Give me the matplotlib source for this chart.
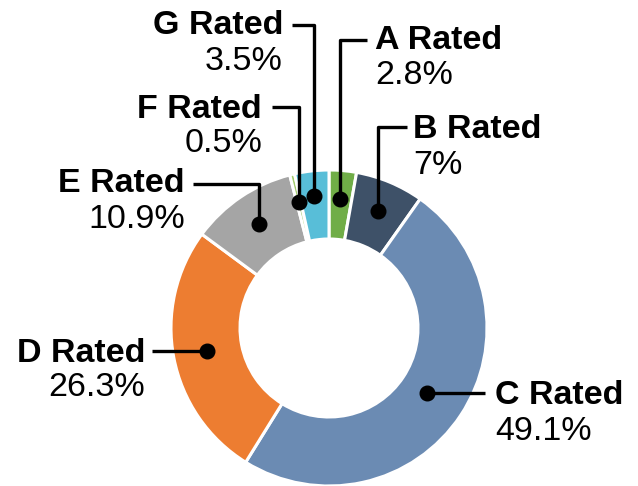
import numpy as np
import matplotlib
matplotlib.use("Agg")
import matplotlib.pyplot as plt

plt.rcParams["font.family"] = ["Liberation Sans", "DejaVu Sans"]

names  = ["A Rated", "B Rated", "C Rated", "D Rated", "E Rated", "F Rated", "G Rated"]
shares = [2.8, 7, 49.1, 26.3, 10.9, 0.5, 3.5]
values = ["2.8%", "7%", "49.1%", "26.3%", "10.9%", "0.5%", "3.5%"]
colors = ["#70ad47", "#3e5168", "#6b8bb3", "#ed7d31", "#a5a5a5", "#a3cc6e", "#58bed8"]

# layout in pixel units (y measured from top of the image)
W, H = 638, 486
cx, cy, R, width = 329, 328, 158, 69
dot_r   = [130, 127, 118, 124, 125, 130, 133]
line_y  = [40, 127, None, None, 184, 107, 25]     # None = straight horizontal leader
line_x  = [367, 407, 485, 152, 193, 272, 292]     # where leader meets the label
side    = ["left", "left", "left", "right", "right", "right", "right"]
name_y  = [41, 130, 395, 354, 184, 109, 26]
value_y = [76, 165, 431, 388, 219, 144, 62]
text_x  = [375, 413, 495, 145, 185, 262, 283]

fig = plt.figure(figsize=(W / 100, H / 100), dpi=100)
ax = fig.add_axes([0, 0, 1, 1])

wedges, _ = ax.pie(shares, colors=colors, startangle=90, counterclock=False,
                   center=(cx, H - cy), radius=R, frame=True,
                   wedgeprops=dict(width=width, edgecolor="white", linewidth=2.2))
ax.set_xlim(0, W)
ax.set_ylim(0, H)
ax.set_aspect("equal")
ax.axis("off")

for i, w in enumerate(wedges):
    mid = np.deg2rad((w.theta1 + w.theta2) / 2)
    dx = cx + dot_r[i] * np.cos(mid)
    dy = (H - cy) + dot_r[i] * np.sin(mid)
    if line_y[i] is None:
        xs, ys = [dx, line_x[i]], [dy, dy]
    else:
        ly = H - line_y[i]
        xs, ys = [dx, dx, line_x[i]], [dy, ly, ly]
    ax.plot(xs, ys, color="black", lw=2.4, solid_capstyle="butt", zorder=3)
    ax.plot(dx, dy, "o", color="black", ms=10.5, zorder=4)
    ax.text(text_x[i], H - name_y[i], names[i], ha=side[i], va="center",
            fontsize=24.5, fontweight="bold")
    ax.text(text_x[i], H - value_y[i], values[i], ha=side[i], va="center",
            fontsize=24.5)

fig.savefig("out.png", dpi=100)
